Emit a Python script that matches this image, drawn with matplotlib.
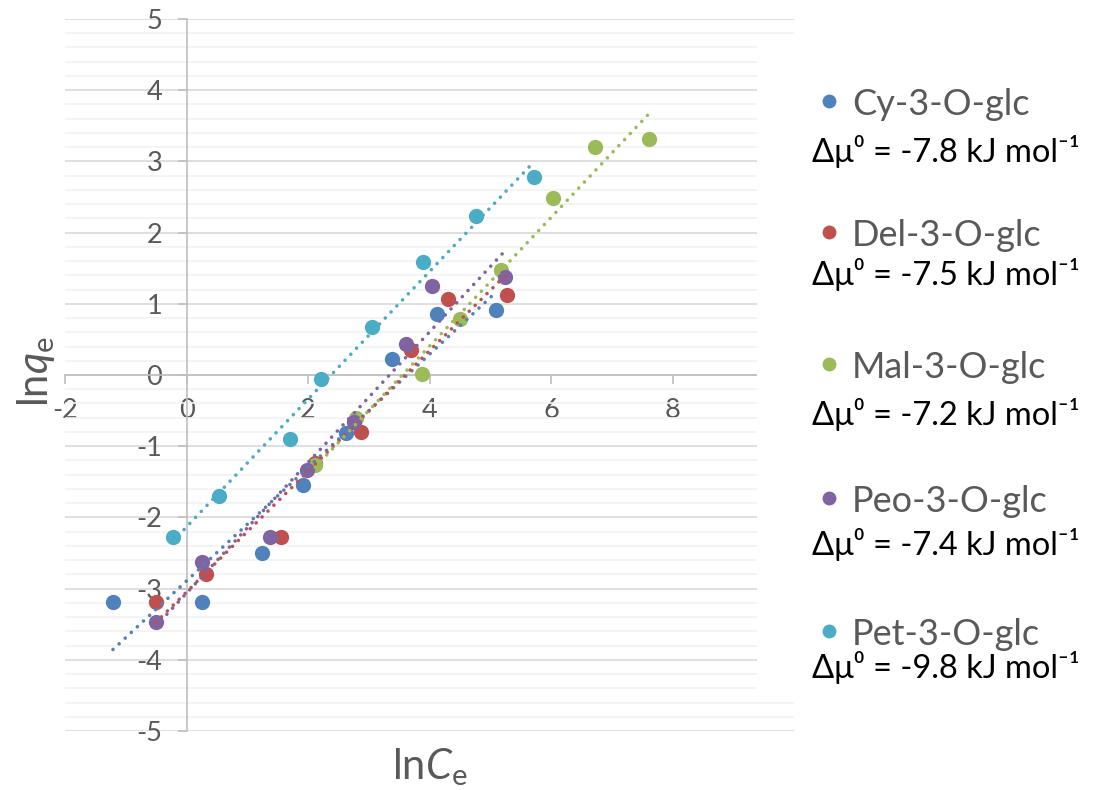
import matplotlib
matplotlib.use('Agg')
import matplotlib.pyplot as plt
import numpy as np
from matplotlib.lines import Line2D
from matplotlib.patches import Rectangle
from matplotlib.ticker import MultipleLocator

plt.rcParams['font.family'] = ['Lato', 'DejaVu Sans']
plt.rcParams['mathtext.fontset'] = 'custom'
plt.rcParams['mathtext.rm'] = 'Lato'
plt.rcParams['mathtext.it'] = 'Lato:italic'

# data (lnCe, lnqe)
names = ['Cy-3-O-glc', 'Del-3-O-glc', 'Mal-3-O-glc', 'Peo-3-O-glc', 'Pet-3-O-glc']
delta_mu = ['-7.8', '-7.5', '-7.2', '-7.4', '-9.8']
colors = ['#4F81BD', '#C0504D', '#9BBB59', '#8064A2', '#4BACC6']

cy_x = [-1.21, 0.26, 1.25, 1.92, 2.63, 3.38, 4.13, 5.09]
cy_y = [-3.19, -3.19, -2.50, -1.54, -0.82, 0.22, 0.86, 0.91]
del_x = [-0.51, 0.32, 1.56, 2.11, 2.88, 3.69, 4.30, 5.27]
del_y = [-3.19, -2.80, -2.28, -1.24, -0.80, 0.35, 1.07, 1.13]
mal_x = [2.12, 2.79, 3.87, 4.50, 5.18, 6.03, 6.72, 7.62]
mal_y = [-1.27, -0.61, 0.02, 0.79, 1.47, 2.49, 3.20, 3.32]
peo_x = [-0.51, 0.25, 1.38, 1.98, 2.75, 3.62, 4.04, 5.25]
peo_y = [-3.47, -2.63, -2.28, -1.33, -0.66, 0.44, 1.25, 1.37]
pet_x = [-0.23, 0.53, 1.70, 2.22, 3.05, 3.89, 4.77, 5.72]
pet_y = [-2.28, -1.70, -0.90, -0.05, 0.67, 1.59, 2.23, 2.78]

xs = [cy_x, del_x, mal_x, peo_x, pet_x]
ys = [cy_y, del_y, mal_y, peo_y, pet_y]

W, H = 1096, 790
fig = plt.figure(figsize=(W / 100, H / 100), dpi=100)
ax = fig.add_axes([65 / W, 1 - 731 / H, 729 / W, 712 / H])

ax.set_xlim(-2, 10)
ax.set_ylim(-5, 5)

# gridlines (horizontal only, like Excel)
ax.yaxis.set_major_locator(MultipleLocator(1))
ax.yaxis.set_minor_locator(MultipleLocator(0.2))
ax.xaxis.set_major_locator(MultipleLocator(2))
ax.grid(axis='y', which='minor', color='#f2f2f2', linewidth=1.2, zorder=0)
ax.grid(axis='y', which='major', color='#d9d9d9', linewidth=1.2, zorder=0)
ax.set_axisbelow(True)

# axes crossing at zero
for s in ['top', 'right']:
    ax.spines[s].set_visible(False)
ax.spines['left'].set_position(('data', 0))
ax.spines['bottom'].set_position(('data', 0))
ax.spines['left'].set_color('#bfbfbf')
ax.spines['bottom'].set_color('#bfbfbf')
ax.spines['left'].set_linewidth(1.2)
ax.spines['bottom'].set_linewidth(1.2)
ax.tick_params(axis='both', which='major', colors='#bfbfbf', labelcolor='#595959',
               labelsize=19.5, direction='out', length=6.5, width=1.2)
ax.tick_params(axis='y', which='minor', length=0)
ax.tick_params(axis='y', pad=11)
ax.tick_params(axis='x', pad=10)
ax.set_xticks([-2, 0, 2, 4, 6, 8])
ax.set_xticklabels(['-2', '0', '2', '4', '6', '8'])
ax.set_yticks(range(-5, 6))
ax.set_yticklabels([str(v) for v in range(-5, 6)])

# points
for x, y, c in zip(xs, ys, colors):
    ax.plot(x, y, 'o', color=c, markersize=11, markeredgewidth=0, zorder=3, clip_on=False)

# linear trendlines (dotted)
for x, y, c in zip(xs, ys, colors):
    k, b = np.polyfit(x, y, 1)
    tx = np.array([min(x), max(x)])
    ax.plot(tx, k * tx + b, color=c, linewidth=2.6, linestyle=(0, (0.01, 2.3)),
            dash_capstyle='round', zorder=4)

# white legend box over the right end of the gridlines
fig.patches.append(Rectangle((757 / W, 1 - 695 / H), (W - 757) / W, (695 - 40) / H,
                             transform=fig.transFigure, facecolor='white',
                             edgecolor='none', zorder=5))

name_base = [115, 246, 378, 512, 645]
mu_base = [162, 285, 425, 555, 678]
for nm, dm, c, yb, ym in zip(names, delta_mu, colors, name_base, mu_base):
    fig.add_artist(Line2D([829 / W], [1 - (yb - 14) / H], marker='o', color=c,
                          markersize=10, markeredgewidth=0, linestyle='none', zorder=6))
    fig.text(852 / W, 1 - yb / H, nm, fontsize=26, color='#595959',
             ha='left', va='baseline', zorder=6)
    fig.text(812 / W, 1 - ym / H, 'Δμ⁰ = ' + dm + ' kJ mol⁻¹', fontsize=23.5,
             color='black', ha='left', va='baseline', zorder=6)

# axis titles
fig.text(430 / W, 1 - 779 / H, r'ln$\mathit{C}_\mathrm{e}$', fontsize=30,
         color='#595959', ha='center', va='baseline')
fig.text(36 / W, 1 - 372 / H, r'ln$\mathit{q}_\mathrm{e}$', fontsize=30,
         color='#595959', ha='center', va='center', rotation=90)

fig.savefig('out.png', dpi=100)
